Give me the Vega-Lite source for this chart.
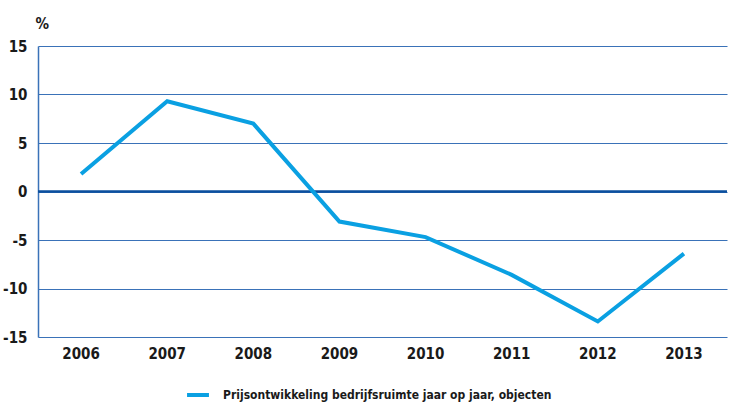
{
  "$schema": "https://vega.github.io/schema/vega-lite/v6.json",
  "autosize": {"type": "none"},
  "width": 689,
  "height": 291,
  "padding": {"left": 38, "top": 46, "right": 2, "bottom": 68},
  "background": "white",
  "config": {
    "view": {"stroke": null},
    "font": "DejaVu Sans Condensed"
  },
  "data": {
    "values": [
      {"jaar": "2006", "waarde": 1.8, "reeks": "Prijsontwikkeling bedrijfsruimte jaar op jaar, objecten"},
      {"jaar": "2007", "waarde": 9.3, "reeks": "Prijsontwikkeling bedrijfsruimte jaar op jaar, objecten"},
      {"jaar": "2008", "waarde": 7.0, "reeks": "Prijsontwikkeling bedrijfsruimte jaar op jaar, objecten"},
      {"jaar": "2009", "waarde": -3.1, "reeks": "Prijsontwikkeling bedrijfsruimte jaar op jaar, objecten"},
      {"jaar": "2010", "waarde": -4.7, "reeks": "Prijsontwikkeling bedrijfsruimte jaar op jaar, objecten"},
      {"jaar": "2011", "waarde": -8.6, "reeks": "Prijsontwikkeling bedrijfsruimte jaar op jaar, objecten"},
      {"jaar": "2012", "waarde": -13.4, "reeks": "Prijsontwikkeling bedrijfsruimte jaar op jaar, objecten"},
      {"jaar": "2013", "waarde": -6.4, "reeks": "Prijsontwikkeling bedrijfsruimte jaar op jaar, objecten"}
    ]
  },
  "layer": [
    {
      "mark": {"type": "rule", "color": "#0b4f9e", "strokeWidth": 2.5},
      "data": {"values": [{"nul": 0}]},
      "encoding": {"y": {"field": "nul", "type": "quantitative", "scale": {"domain": [-15, 15]}}}
    },
    {
      "mark": {"type": "line", "strokeWidth": 4, "strokeJoin": "miter"},
      "encoding": {
        "x": {
          "field": "jaar",
          "type": "ordinal",
          "scale": {"type": "band", "paddingInner": 0, "paddingOuter": 0},
          "axis": {
            "title": null,
            "domain": false,
            "ticks": false,
            "labelAngle": 0,
            "labelPadding": 9,
            "labelFontSize": 15,
            "labelFontWeight": "bold",
            "labelColor": "#1a1a1a"
          }
        },
        "y": {
          "field": "waarde",
          "type": "quantitative",
          "scale": {"domain": [-15, 15], "nice": false},
          "axis": {
            "values": [-15, -10, -5, 0, 5, 10, 15],
            "labelExpr": "datum.value + ''",
            "title": "%",
            "titleAngle": 0,
            "titleX": -3,
            "titleY": -18,
            "titleAlign": "left",
            "titleBaseline": "alphabetic",
            "titleFontSize": 15,
            "titleFontWeight": "bold",
            "titleColor": "#1a1a1a",
            "domain": true,
            "domainColor": "#3a72b8",
            "domainWidth": 1.5,
            "ticks": false,
            "grid": true,
            "gridColor": "#3a72b8",
            "gridWidth": 1.2,
            "gridOpacity": 1,
            "labelPadding": 11,
            "labelFontSize": 15,
            "labelFontWeight": "bold",
            "labelColor": "#1a1a1a"
          }
        },
        "color": {
          "field": "reeks",
          "type": "nominal",
          "scale": {"range": ["#0aa0e2"]},
          "legend": {
            "title": null,
            "orient": "none",
            "legendX": 147,
            "legendY": 336,
            "symbolType": "stroke",
            "symbolStrokeWidth": 4,
            "symbolSize": 480,
            "labelFontSize": 12,
            "labelFontWeight": "bold",
            "labelColor": "#1a1a1a",
            "labelOffset": 12,
            "labelLimit": 500
          }
        }
      }
    }
  ]
}
